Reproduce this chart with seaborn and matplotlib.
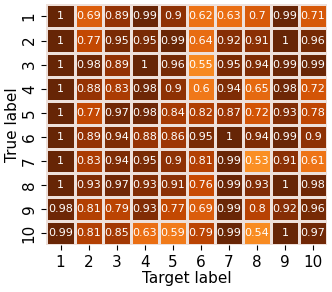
import matplotlib
matplotlib.use('Agg')
import matplotlib.pyplot as plt
import seaborn as sns
import numpy as np

labels = [str(i) for i in range(1, 11)]
scores = [
    [1, 0.69, 0.89, 0.99, 0.9, 0.62, 0.63, 0.7, 0.99, 0.71],
    [1, 0.77, 0.95, 0.95, 0.99, 0.64, 0.92, 0.91, 1, 0.96],
    [1, 0.98, 0.89, 1, 0.96, 0.55, 0.95, 0.94, 0.99, 0.99],
    [1, 0.88, 0.83, 0.98, 0.9, 0.6, 0.94, 0.65, 0.98, 0.72],
    [1, 0.77, 0.97, 0.98, 0.84, 0.82, 0.87, 0.72, 0.93, 0.78],
    [1, 0.89, 0.94, 0.88, 0.86, 0.95, 1, 0.94, 0.99, 0.9],
    [1, 0.83, 0.94, 0.95, 0.9, 0.81, 0.99, 0.53, 0.91, 0.61],
    [1, 0.93, 0.97, 0.93, 0.91, 0.76, 0.99, 0.93, 1, 0.98],
    [0.98, 0.81, 0.79, 0.93, 0.77, 0.69, 0.99, 0.8, 0.92, 0.96],
    [0.99, 0.81, 0.85, 0.63, 0.59, 0.79, 0.99, 0.54, 1, 0.97],
]

fig, ax = plt.subplots(figsize=(3.32, 2.92), dpi=100)
sns.heatmap(np.array(scores), annot=True, fmt='.2g', cmap='YlOrBr', vmin=0, vmax=1,
            cbar=False, linewidths=1, linecolor='#eee0da',
            annot_kws={'fontsize': 8, 'color': 'white'},
            xticklabels=labels, yticklabels=labels, ax=ax)
ax.tick_params(labelsize=11)
plt.setp(ax.get_yticklabels(), rotation=90, va='center')
ax.set_xlabel('Target label', fontsize=11, labelpad=1)
ax.set_ylabel('True label', fontsize=11, labelpad=1)
fig.subplots_adjust(left=0.14, right=0.985, top=0.985, bottom=0.16)
fig.savefig('out.png')
plt.close()
